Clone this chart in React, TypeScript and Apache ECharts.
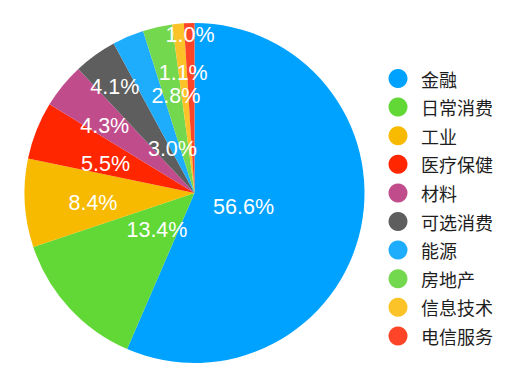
import React, { useEffect, useRef } from "react";
import * as echarts from "echarts";

const categories = ["金融", "日常消费", "工业", "医疗保健", "材料", "可选消费", "能源", "房地产", "信息技术", "电信服务"];
const values = [56.6, 13.4, 8.4, 5.5, 4.3, 4.1, 3.0, 2.8, 1.1, 1.0];
const colors = ["#00a2ff", "#61d836", "#f8ba00", "#ff2600", "#c04c8c", "#5e5e5e", "#1eadfd", "#74d84f", "#fbc327", "#ff4527"];

// label placement (fraction of radius, angular shift in degrees)
const labelRadius = [0.30, 0.31, 0.60, 0.55, 0.66, 0.78, 0.29, 0.58, 0.71, 0.93];
const labelShift = [4, -2, -2, -3.5, -2.3, -1.2, -3.6, 1.7, 0.2, 0.2];

const CX = 194.5;
const CY = 193;
const R = 170;

export default function App() {
  const ref = useRef<HTMLDivElement>(null);
  useEffect(() => {
    if (!ref.current) return;
    const chart = echarts.init(ref.current, null, { renderer: "svg" });
    const total = values.reduce((a, b) => a + b, 0);
    const mids: number[] = [];
    let acc = 0;
    values.forEach((v) => {
      mids.push(((acc + v / 2) / total) * 360);
      acc += v;
    });
    chart.setOption({
      animation: false,
      color: colors,
      legend: {
        orient: "vertical",
        left: 388.5,
        top: 69,
        padding: 0,
        icon: "circle",
        itemWidth: 19,
        itemHeight: 19,
        itemGap: 9.6,
        data: categories,
        textStyle: {
          fontSize: 18,
          color: "#1e1e1e",
          fontFamily: "Noto Sans CJK SC",
          padding: [0, 0, 0, 8.5],
        },
      },
      series: [
        {
          type: "pie",
          center: [CX, CY],
          radius: [0, R],
          startAngle: 90,
          clockwise: true,
          avoidLabelOverlap: false,
          data: categories.map((c, i) => ({ name: c, value: values[i] })),
          label: {
            show: true,
            position: "inside",
            formatter: (p: any) => p.value.toFixed(1) + "%",
            color: "#ffffff",
            fontSize: 21.5,
            fontFamily: "Liberation Sans, Arial, sans-serif",
          },
          labelLine: { show: false },
          labelLayout: (p: any) => {
            const i = p.dataIndex;
            const a = ((mids[i] + labelShift[i]) * Math.PI) / 180;
            const d = labelRadius[i] * R;
            return {
              x: CX + Math.sin(a) * d,
              y: CY - Math.cos(a) * d,
              align: "center",
              verticalAlign: "middle",
            };
          },
          itemStyle: { borderWidth: 0 },
          emphasis: { disabled: true },
        },
      ],
    });
    return () => chart.dispose();
  }, []);
  return (
    <div
      ref={ref}
      style={{ position: "fixed", left: 0, top: 0, width: 517, height: 389, background: "#fff" }}
    />
  );
}
